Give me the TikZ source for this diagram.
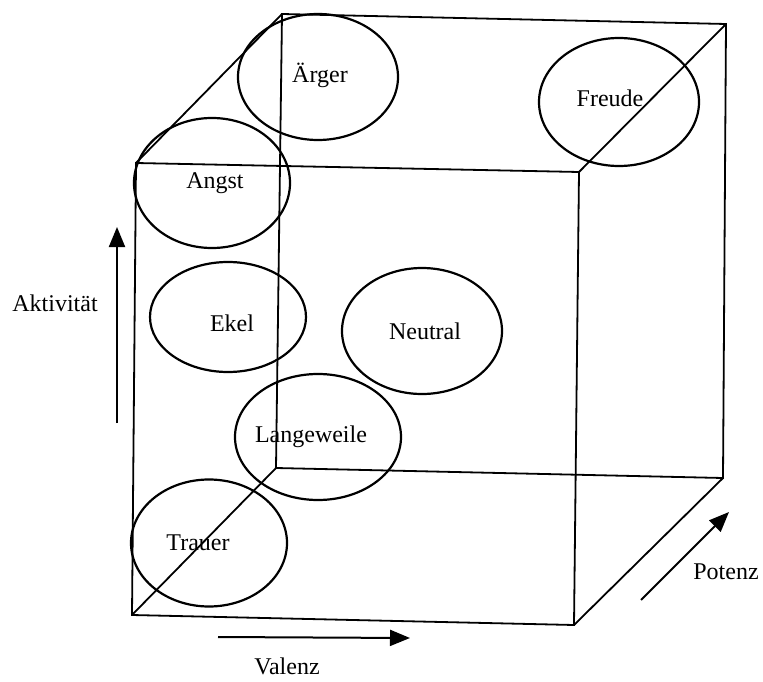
\documentclass[tikz,border=0pt]{standalone}
\usepackage{fontspec}
\setmainfont{Liberation Serif}
\usetikzlibrary{shapes.geometric,arrows.meta}
\begin{document}
\begin{tikzpicture}[x=1pt,y=-1pt]
        \tikzset{emotion/.style = {shape=ellipse, draw, line width=2.2pt, inner sep=0pt},
                 every label/.style = {font=\fontsize{24}{28}\selectfont, inner sep=0pt},
                 edge/.style = {line width=1.8pt},
                 axis/.style = {line width=2pt, -{Triangle[length=20pt,width=16pt]}},
                 axislabel/.style = {font=\fontsize{24}{28}\selectfont}}
        \useasboundingbox (0,0) rectangle (763,682);

        % Wuerfel
        \coordinate (ftl) at (136,163);
        \coordinate (ftr) at (579,172);
        \coordinate (fbr) at (574,625);
        \coordinate (fbl) at (132,615);

        \coordinate (btl) at (282,14);
        \coordinate (btr) at (726,24);
        \coordinate (bbr) at (723,478);
        \coordinate (bbl) at (276,468);

        \draw[edge] (ftl) -- (ftr) -- (fbr) -- (fbl) -- cycle;
        \draw[edge] (btl) -- (btr) -- (bbr) -- (bbl) -- cycle;
        \draw[edge] (ftl) -- (btl);
        \draw[edge] (ftr) -- (btr);
        \draw[edge] (fbr) -- (bbr);
        \draw[edge] (fbl) -- (bbl);

        % Emotionen
        \node[emotion, minimum width=160pt, minimum height=126pt, label={[xshift=2pt,yshift=2pt]center:Ärger}] (aerger) at (318,77) {};
        \node[emotion, minimum width=156pt, minimum height=130pt, label={[xshift=3pt]center:Angst}] (angst) at (212,183) {};
        \node[emotion, minimum width=160pt, minimum height=128pt, label={[xshift=-9pt,yshift=4pt]center:Freude}] (freude) at (619,102) {};
        \node[emotion, minimum width=156pt, minimum height=110pt, label={[xshift=4pt,yshift=-6pt]center:Ekel}] (ekel) at (228,317) {};
        \node[emotion, minimum width=160pt, minimum height=126pt, label={[xshift=3pt]center:Neutral}] (neutral) at (422,331) {};
        \node[emotion, minimum width=166pt, minimum height=126pt, label={[xshift=-7pt]center:Langeweile}] (langeweile) at (318,437) {};
        \node[emotion, minimum width=156pt, minimum height=127pt, label={[xshift=-11pt]center:Trauer}] (trauer) at (209,543) {};

        % Achsen
        \coordinate (akt0) at (117,423);
        \coordinate (akt1) at (117,227);
        \coordinate (val0) at (218,637);
        \coordinate (val1) at (410,638);
        \coordinate (pot0) at (641,600);
        \coordinate (pot1) at (729,512);

        \draw[axis] (akt0) -- (akt1);
        \draw[axis] (val0) -- (val1);
        \draw[axis] (pot0) -- (pot1);

        \node[axislabel] (aktivitaet) at (55,303) {Aktivität};
        \node[axislabel] (valenz) at (287,666) {Valenz};
        \node[axislabel] (potenz) at (726,572) {Potenz};

    \end{tikzpicture}
\end{document}
